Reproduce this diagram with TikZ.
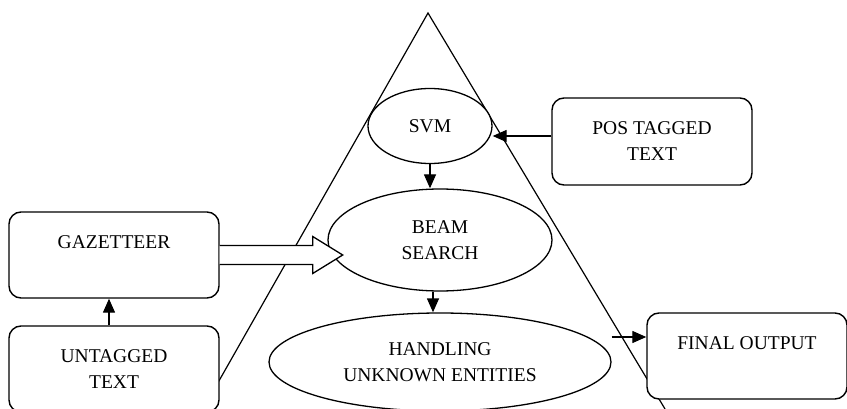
\documentclass[tikz,border=0pt]{standalone}
\usepackage{fontspec}
\setmainfont{Liberation Serif}
\usetikzlibrary{shapes.geometric,arrows.meta,calc}
\begin{document}
\begin{tikzpicture}[x=1pt,y=-1pt,
  txt/.style={font=\fontsize{19.5}{26}\selectfont},
  box/.style={txt,draw,line width=1.4pt,rounded corners=12pt,fill=white,
    minimum height=86pt,inner sep=0pt,align=center},
  ell/.style={txt,draw,ellipse,line width=1.3pt,fill=white,inner sep=0pt,align=center},
  arr/.style={line width=1.3pt,-{Triangle[length=14pt,width=12pt]}},
  tri/.style={line width=1.2pt},
  hollow/.style={line width=1.3pt,fill=white,line join=miter}]
\useasboundingbox (0,0) rectangle (847,409);
\draw[tri] (203,409) -- (428,13) -- (665,409);
\node[ell,minimum width=124pt,minimum height=75pt] (svm) at (430,126) {SVM};
\node[ell,minimum width=224pt,minimum height=102pt] (beam) at (440,240) {BEAM\\SEARCH};
\node[ell,minimum width=342pt,minimum height=98pt] (hand) at (440,362) {HANDLING\\UNKNOWN ENTITIES};
\node[box,minimum width=200pt,minimum height=87pt] (pos) at (652,141.5) {POS TAGGED\\TEXT};
\node[box,minimum width=210pt] (gaz) at (114,255) {GAZETTEER\\ \mbox{}};
\node[box,minimum width=210pt] (unt) at (114,369) {UNTAGGED\\TEXT};
\node[box,minimum width=200pt] (fin) at (747,356) {FINAL OUTPUT\\ \mbox{}};
\draw[hollow] ($(gaz.east)+(0,-9.5)$) -- ++(93,0) -- ++(0,-9) -- ($(gaz.east)+(123,0)$)
  -- ($(gaz.east)+(93,18.5)$) -- ++(0,-9) -- ($(gaz.east)+(0,9.5)$);
\draw[arr] (svm.south) -- (svm.south |- beam.north);
\draw[arr] ([xshift=-7pt]beam.south) -- ([xshift=-7pt]beam.south |- hand.north);
\draw[arr] ([yshift=5.5pt]pos.west) -- ([yshift=5.5pt]pos.west -| svm.east);
\draw[arr] ([xshift=-5pt]unt.north) -- ([xshift=-5pt]gaz.south);
\coordinate (fo) at ([yshift=19pt]fin.west);
\draw[arr] (hand.east |- fo) -- (fo);
\end{tikzpicture}
\end{document}
